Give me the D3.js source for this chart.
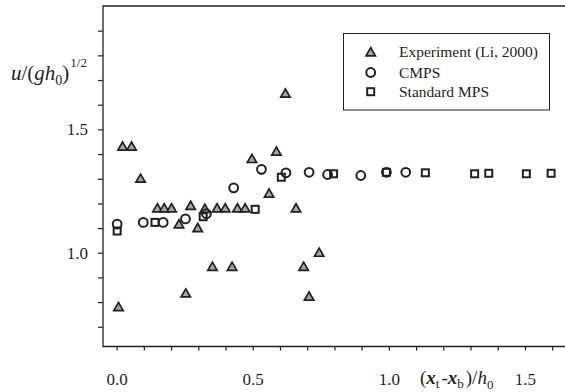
<!DOCTYPE html>
<html>
<head>
<meta charset="utf-8">
<script src="https://cdn.jsdelivr.net/npm/d3@7"></script>
<style>
  body { margin: 0; background: #fff; }
</style>
</head>
<body>
<div id="chart"></div>
<script>
// Experiment (Li, 2000)
const expX = [0.007, 0.022, 0.055, 0.088, 0.150, 0.175, 0.202, 0.229, 0.254, 0.272, 0.298, 0.324, 0.352,
  0.369, 0.399, 0.424, 0.444, 0.472, 0.497, 0.560, 0.587, 0.620, 0.659, 0.687, 0.707, 0.744];
const expY = [0.78, 1.43, 1.43, 1.30, 1.18, 1.18, 1.18, 1.115, 0.835, 1.19, 1.10, 1.178, 0.943,
  1.18, 1.18, 0.943, 1.18, 1.18, 1.38, 1.24, 1.41, 1.645, 1.18, 0.943, 0.822, 1.0];

// CMPS
const cmpsX = [0.002, 0.098, 0.171, 0.253, 0.330, 0.430, 0.532, 0.622, 0.707, 0.775, 0.897, 0.991, 1.062];
const cmpsY = [1.116, 1.123, 1.123, 1.137, 1.158, 1.263, 1.338, 1.324, 1.326, 1.317, 1.313, 1.326, 1.326];

// Standard MPS
const mpsX = [0.002, 0.141, 0.318, 0.509, 0.605, 0.797, 0.991, 1.134, 1.315, 1.367, 1.505, 1.596];
const mpsY = [1.088, 1.123, 1.146, 1.176, 1.306, 1.320, 1.326, 1.324, 1.320, 1.322, 1.320, 1.322];

const xTicks = [0, 0.1, 0.2, 0.3, 0.4, 0.5, 0.6, 0.7, 0.8, 0.9, 1.0, 1.1, 1.2, 1.3, 1.4, 1.5, 1.6];
const xLabels = [0, 0.5, 1.0, 1.5];
const yTicks = [0.7, 0.8, 0.9, 1.0, 1.1, 1.2, 1.3, 1.4, 1.5, 1.6, 1.7, 1.8, 1.9];
const yLabels = [1.0, 1.5];

const legendNames = ['Experiment (Li, 2000)', 'CMPS', 'Standard MPS'];

const width = 565, height = 392;
const ink = '#231f20';
const serif = '"Liberation Serif"';

const svg = d3.select('#chart').append('svg')
  .attr('width', width)
  .attr('height', height);

const x = d3.scaleLinear().domain([-0.05, 1.647]).range([103, 565]);
const y = d3.scaleLinear().domain([0.62, 2.0]).range([346.5, 6]);

const has = (arr, v) => arr.some(a => Math.abs(a - v) < 1e-6);

const xAxis = d3.axisBottom(x)
  .tickValues(xTicks)
  .tickSize(4)
  .tickPadding(22)
  .tickFormat(d => has(xLabels, d) ? d3.format('.1f')(d) : '');

const yAxis = d3.axisLeft(y)
  .tickValues(yTicks)
  .tickSize(5)
  .tickPadding(10)
  .tickFormat(d => has(yLabels, d) ? d3.format('.1f')(d) : '');

const gx = svg.append('g')
  .attr('transform', `translate(0, ${y.range()[0]})`)
  .call(xAxis);

const gy = svg.append('g')
  .attr('transform', `translate(${x.range()[0]}, 0)`)
  .call(yAxis);

[gx, gy].forEach(g => {
  g.attr('font-family', null).attr('font-size', null);
  g.select('.domain').remove();
  g.selectAll('.tick line').attr('stroke', ink).attr('stroke-width', 1.2);
  g.selectAll('.tick text').attr('fill', ink).attr('font-size', 17);
});

// frame: left, bottom, top
svg.append('path')
  .attr('d', `M${x.range()[1]},${y.range()[1]}H${x.range()[0]}V${y.range()[0]}H${x.range()[1]}`)
  .attr('fill', 'none')
  .attr('stroke', ink)
  .attr('stroke-width', 1.3);

const tri = d3.symbol().type(d3.symbolTriangle).size(38);

function drawTri(g) {
  g.attr('d', tri)
    .attr('fill', '#a7a5a5')
    .attr('stroke', ink)
    .attr('stroke-width', 1.7);
}
function drawCircle(g) {
  g.attr('r', 4.4)
    .attr('fill', 'none')
    .attr('stroke', ink)
    .attr('stroke-width', 2);
}
function drawSquare(g) {
  g.attr('width', 7).attr('height', 7)
    .attr('x', -3.5).attr('y', -3.5)
    .attr('fill', 'none')
    .attr('stroke', ink)
    .attr('stroke-width', 2);
}

svg.append('g').selectAll('path')
  .data(expX.map((v, i) => [v, expY[i]]))
  .enter().append('path')
  .attr('transform', d => `translate(${x(d[0])},${y(d[1]) + 0.8})`)
  .call(drawTri);

svg.append('g').selectAll('circle')
  .data(cmpsX.map((v, i) => [v, cmpsY[i]]))
  .enter().append('circle')
  .attr('cx', d => x(d[0]))
  .attr('cy', d => y(d[1]))
  .call(drawCircle);

svg.append('g').selectAll('rect')
  .data(mpsX.map((v, i) => [v, mpsY[i]]))
  .enter().append('rect')
  .attr('transform', d => `translate(${x(d[0])},${y(d[1])})`)
  .call(drawSquare);

// legend
const legend = svg.append('g');
legend.append('rect')
  .attr('x', 343.5).attr('y', 33.5)
  .attr('width', 206).attr('height', 76.5)
  .attr('fill', '#fff')
  .attr('stroke', ink)
  .attr('stroke-width', 1);

const rowY = [52.3, 72.5, 91.7];
legend.append('path')
  .attr('transform', `translate(370.7,${rowY[0] + 0.8})`)
  .call(drawTri);
legend.append('circle')
  .attr('cx', 370.7).attr('cy', rowY[1])
  .call(drawCircle);
legend.append('rect')
  .attr('transform', `translate(370.7,${rowY[2]})`)
  .call(drawSquare);

legend.selectAll('text.lbl')
  .data(legendNames)
  .enter().append('text')
  .attr('class', 'lbl')
  .attr('x', 399)
  .attr('y', (d, i) => rowY[i] + 5)
  .attr('font-size', 15.5)
  .attr('fill', ink)
  .text(d => d);

// y axis title: u/(gh0)^1/2
const yt = svg.append('text')
  .attr('x', 11)
  .attr('y', 80)
  .attr('font-size', 21)
  .attr('fill', ink);
yt.append('tspan').attr('font-style', 'italic').text('u');
yt.append('tspan').text('/(');
yt.append('tspan').attr('font-style', 'italic').text('gh');
yt.append('tspan').attr('dy', 5).attr('font-size', 14).text('0');
yt.append('tspan').attr('dy', -5).text(')');
yt.append('tspan').attr('dy', -13).attr('dx', 1).attr('font-size', 13).text('1/2');

// x axis title: (xt - xb)/h0
const xt = svg.append('text')
  .attr('x', 420)
  .attr('y', 384)
  .attr('font-size', 19)
  .attr('fill', ink);
xt.append('tspan').text('(');
xt.append('tspan').attr('font-style', 'italic').attr('font-weight', 'bold').text('x');
xt.append('tspan').attr('dy', 4).attr('font-size', 13).text('t');
xt.append('tspan').attr('dy', -4).attr('dx', 2).text('-');
xt.append('tspan').attr('font-style', 'italic').attr('font-weight', 'bold').text('x');
xt.append('tspan').attr('dy', 4).attr('font-size', 13).text('b');
xt.append('tspan').attr('dy', -4).attr('dx', 2).text(')/');
xt.append('tspan').attr('font-style', 'italic').text('h');
xt.append('tspan').attr('dy', 5).attr('font-size', 13).text('0');

// set the serif face directly on every text element
svg.selectAll('text, tspan').attr('font-family', serif);
</script>
</body>
</html>
